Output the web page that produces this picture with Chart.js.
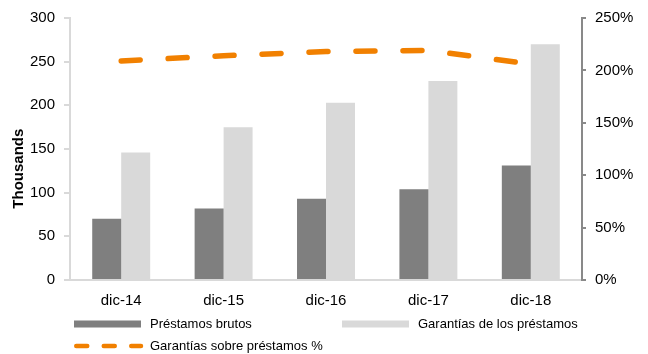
<!DOCTYPE html>
<html>
<head>
<meta charset="utf-8">
<script src="https://cdn.jsdelivr.net/npm/chart.js@4"></script>
<style>
  html, body { margin: 0; padding: 0; background: #ffffff; }
  #wrap { width: 648px; height: 354px; position: relative; }
</style>
</head>
<body>
<div id="wrap"><canvas id="c"></canvas></div>
<script>
// Year-end figures (thousands) and coverage ratio (%)
const categories = ['dic-14', 'dic-15', 'dic-16', 'dic-17', 'dic-18'];
const prestamosBrutos = [70, 82, 93, 104, 131];
const garantiasPrestamos = [146, 175, 203, 228, 270];
const garantiasSobrePrestamos = [209, 214, 218, 219, 206];
const leftAxisRange = { min: 0, max: 300, step: 50 };
const rightAxisRange = { min: 0, max: 250, step: 50 };
const leftAxisTitle = 'Thousands';

const FONT = "'Liberation Sans', Arial, Helvetica, sans-serif";
const DARK = '#7f7f7f';
const LIGHT = '#d9d9d9';
const ORANGE = '#f18000';

// Rotated title for the left value axis, set slightly below the plot's middle
const leftTitle = {
  id: 'leftTitle',
  afterDraw(chart) {
    const ctx = chart.ctx;
    const area = chart.chartArea;
    ctx.save();
    ctx.translate(19, area.top + (area.bottom - area.top) * 0.575);
    ctx.rotate(-Math.PI / 2);
    ctx.font = 'bold 15px ' + FONT;
    ctx.fillStyle = '#000';
    ctx.textAlign = 'center';
    ctx.textBaseline = 'middle';
    ctx.fillText(leftAxisTitle, 0, 0);
    ctx.restore();
  }
};

// Legend laid out as a two-column grid under the axis
const bottomLegend = {
  id: 'bottomLegend',
  afterDraw(chart) {
    const ctx = chart.ctx;
    const ds = chart.data.datasets;
    const slots = [
      { x: 74, y: 324 },
      { x: 342, y: 324 },
      { x: 74, y: 346 }
    ];
    ctx.save();
    ctx.font = '13px ' + FONT;
    ctx.textBaseline = 'middle';
    ds.forEach((d, i) => {
      const s = slots[i];
      if (d.type === 'line') {
        ctx.save();
        ctx.strokeStyle = d.borderColor;
        ctx.lineWidth = 4.5;
        ctx.lineCap = 'round';
        ctx.setLineDash([11, 16.5]);
        ctx.beginPath();
        ctx.moveTo(s.x + 2.25, s.y);
        ctx.lineTo(s.x + 67, s.y);
        ctx.stroke();
        ctx.restore();
      } else {
        ctx.fillStyle = d.backgroundColor;
        ctx.fillRect(s.x, s.y - 3.5, 67, 7);
      }
      ctx.fillStyle = '#000';
      ctx.fillText(d.label, s.x + 76, s.y);
    });
    ctx.restore();
  }
};

new Chart(document.getElementById('c'), {
  data: {
    labels: categories,
    datasets: [
      {
        type: 'bar',
        label: 'Préstamos brutos',
        data: prestamosBrutos,
        backgroundColor: DARK,
        yAxisID: 'y',
        order: 1,
        barPercentage: 1,
        categoryPercentage: 0.566
      },
      {
        type: 'bar',
        label: 'Garantías de los préstamos',
        data: garantiasPrestamos,
        backgroundColor: LIGHT,
        yAxisID: 'y',
        order: 1,
        barPercentage: 1,
        categoryPercentage: 0.566
      },
      {
        type: 'line',
        label: 'Garantías sobre préstamos %',
        data: garantiasSobrePrestamos,
        borderColor: ORANGE,
        backgroundColor: ORANGE,
        borderWidth: 5.5,
        borderDash: [19, 28],
        borderCapStyle: 'round',
        pointRadius: 0,
        tension: 0,
        fill: false,
        yAxisID: 'y1',
        order: 0
      }
    ]
  },
  options: {
    responsive: true,
    maintainAspectRatio: false,
    animation: false,
    layout: { padding: { top: 18, bottom: 44, left: 0, right: 0 } },
    plugins: {
      legend: { display: false },
      tooltip: { enabled: false }
    },
    scales: {
      x: {
        grid: { display: false, drawTicks: false },
        border: { display: true, color: LIGHT, width: 2 },
        ticks: { color: '#000', font: { family: FONT, size: 15 }, padding: 12 },
        afterFit(scale) { scale.height = 30; }
      },
      y: {
        position: 'left',
        min: leftAxisRange.min,
        max: leftAxisRange.max,
        grid: { drawOnChartArea: false, drawTicks: true, tickLength: 6, color: LIGHT, lineWidth: 2 },
        border: { display: true, color: LIGHT, width: 2 },
        ticks: { stepSize: leftAxisRange.step, color: '#000', font: { family: FONT, size: 15 }, padding: 9 },
        afterFit(scale) { scale.width = 70; }
      },
      y1: {
        position: 'right',
        min: rightAxisRange.min,
        max: rightAxisRange.max,
        grid: { drawOnChartArea: false, drawTicks: true, tickLength: 4, color: '#898989', lineWidth: 2 },
        border: { display: true, color: '#898989', width: 2 },
        ticks: {
          stepSize: rightAxisRange.step,
          color: '#000',
          font: { family: FONT, size: 15 },
          padding: 9,
          callback: v => v + '%'
        },
        afterFit(scale) { scale.width = 66; }
      }
    }
  },
  plugins: [leftTitle, bottomLegend]
});
</script>
</body>
</html>
